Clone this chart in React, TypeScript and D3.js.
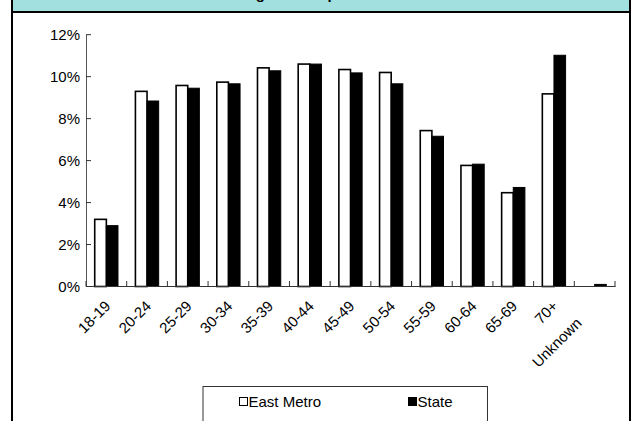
import React from "react";
import * as d3 from "d3";

const categories = ["18-19","20-24","25-29","30-34","35-39","40-44","45-49","50-54","55-59","60-64","65-69","70+","Unknown"];
const eastMetro = [3.2, 9.3, 9.58, 9.74, 10.42, 10.6, 10.34, 10.2, 7.43, 5.77, 4.47, 9.18, 0];
const stateVals = [2.9, 8.84, 9.45, 9.66, 10.28, 10.6, 10.18, 9.66, 7.16, 5.83, 4.72, 11.02, 0.1];
const yTicks = [0, 2, 4, 6, 8, 10, 12];
const seriesNames = ["East Metro", "State"];
const title = "Age of Sample Voters";

const W = 637, H = 421;
const FONT = "Arial, 'Liberation Sans', sans-serif";

export default function App() {
  const x = d3.scaleBand<string>().domain(categories).range([86, 615]).paddingInner(0).paddingOuter(0);
  const y = d3.scaleLinear().domain([0, 12]).range([286.5, 34.7]);
  const bw = x.bandwidth() / 3.5;
  const off = bw * 0.75;
  const boundaries = categories.map((c) => x(c)!).concat([615]);

  return (
    <svg width={W} height={H} style={{ position: "absolute", left: 0, top: 0, background: "#fff" }} fontFamily={FONT}>
      <rect x={0} y={0} width={W} height={H} fill="#fff" />
      {/* title band */}
      <rect x={12} y={-2} width={618} height={14} fill="#A2E0E0" />
      <text x={322} y={-1.5} textAnchor="middle" fontSize={15} fontWeight="bold" fill="#000">{title}</text>
      <line x1={11} x2={631} y1={12} y2={12} stroke="#000" strokeWidth={2} />
      <line x1={12} x2={12} y1={0} y2={H} stroke="#000" strokeWidth={2} />
      <line x1={630} x2={630} y1={0} y2={H} stroke="#000" strokeWidth={2} />

      {/* bars */}
      {categories.map((c, i) => {
        const x0 = x(c)! + off;
        return (
          <g key={c}>
            {eastMetro[i] > 0 && (
              <rect x={x0} y={y(eastMetro[i])} width={bw} height={y(0) - y(eastMetro[i])} fill="#fff" stroke="#000" strokeWidth={1.6} />
            )}
            <rect x={x0 + bw} y={y(stateVals[i])} width={bw} height={y(0) - y(stateVals[i])} fill="#000" stroke="#000" strokeWidth={1} />
          </g>
        );
      })}

      {/* y axis */}
      <line x1={86.5} x2={86.5} y1={y(12)} y2={y(0)} stroke="#555" strokeWidth={1} />
      {yTicks.map((t) => (
        <g key={t}>
          <line x1={86} x2={91} y1={y(t)} y2={y(t)} stroke="#333" strokeWidth={1} />
          <text x={80} y={y(t)} dy="0.36em" textAnchor="end" fontSize={15} fill="#000">{t}%</text>
        </g>
      ))}

      {/* x axis */}
      <line x1={86} x2={615.5} y1={286.5} y2={286.5} stroke="#333" strokeWidth={1} />
      {boundaries.map((b, i) => (
        <line key={i} x1={b} x2={b} y1={286.5} y2={281} stroke="#333" strokeWidth={1} />
      ))}
      {categories.map((c) => {
        const s = Math.max(0, c.length - 5) * 12;
        const cx = x(c)! + x.bandwidth() / 2 + 5 - s * 0.707;
        const cy = 307 + s * 0.707;
        return (
          <text key={c} x={cx} y={cy} transform={`rotate(-45 ${cx} ${cy})`} textAnchor="end" fontSize={15} fill="#000">{c}</text>
        );
      })}

      {/* legend */}
      <rect x={203} y={386.5} width={284.5} height={36} fill="#fff" stroke="#333" strokeWidth={1} />
      <rect x={239.5} y={397.5} width={8} height={8} fill="#fff" stroke="#000" strokeWidth={1} />
      <text x={248.5} y={406.5} fontSize={15} fill="#000">{seriesNames[0]}</text>
      <rect x={408.5} y={397.5} width={8} height={8} fill="#000" stroke="#000" strokeWidth={1} />
      <text x={417.5} y={406.5} fontSize={15} fill="#000">{seriesNames[1]}</text>
    </svg>
  );
}
